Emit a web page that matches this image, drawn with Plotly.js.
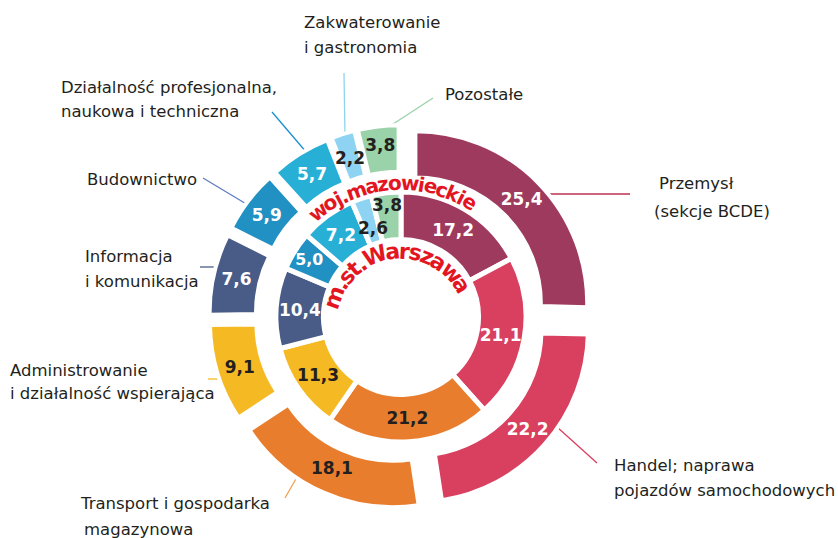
<!DOCTYPE html>
<html>
<head>
<meta charset="utf-8">
<script src="https://cdn.plot.ly/plotly-3.0.1.min.js"></script>
<style>html,body{margin:0;padding:0;background:#fff;}#chart{width:838px;height:538px;}</style>
</head>
<body>
<div id="chart"></div>
<script>
// ---------- DATA ----------
const categories = [
  'Przemysł (sekcje BCDE)',
  'Handel; naprawa pojazdów samochodowych',
  'Transport i gospodarka magazynowa',
  'Administrowanie i działalność wspierająca',
  'Informacja i komunikacja',
  'Budownictwo',
  'Działalność profesjonalna, naukowa i techniczna',
  'Zakwaterowanie i gastronomia',
  'Pozostałe'
];
const mazowieckie = [25.4, 22.2, 18.1, 9.1, 7.6, 5.9, 5.7, 2.2, 3.8];
const warszawa    = [17.2, 21.1, 21.2, 11.3, 10.4, 5.0, 7.2, 2.6, 3.8];
const outerName = 'woj.mazowieckie';
const innerName = 'm.st.Warszawa';
const labelLines = [
  ['Przemysł', '(sekcje BCDE)'],
  ['Handel; naprawa', 'pojazdów samochodowych'],
  ['Transport i gospodarka', 'magazynowa'],
  ['Administrowanie', 'i działalność wspierająca'],
  ['Informacja', 'i komunikacja'],
  ['Budownictwo'],
  ['Działalność profesjonalna,', 'naukowa i techniczna'],
  ['Zakwaterowanie', 'i gastronomia'],
  ['Pozostałe']
];

// ---------- STYLE ----------
const W = 838, H = 538;
const colors = ['#9E3A5E', '#D9405F', '#E87E2D', '#F5B923', '#495B87', '#2190C2', '#28AFD6', '#8ED3F2', '#9AD2A9'];
const lineColors = ['#BE3050', '#D9405F', '#F2A050', '#F5B923', '#495B87', '#5F7CC0', '#1A90D0', '#8ED3F2', '#9AD2A9'];
const darkText = [false, false, true, true, false, false, false, true, true];
const red = '#E3161F';
const FONT = 'DejaVu Sans';
const VAL_SIZE = 17;
const cx = 401, cy = 317;          // pie centre (px)
const outerPull = 0.117;
const outerR = 171.8, outerHole = 0.73;
const innerR = 125, innerHole = 0.62;

const px = x => x / W;
const py = y => 1 - y / H;
const fmt = v => v.toFixed(1).replace('.', ',');

// which slices get their value as a free annotation (placed at the slice bisector)
const outerAnno = [2, 7];
const innerAnno = [7, 8];

function dom(r, pull) {
  const half = r * (1 + pull);
  return { x: [px(cx - half), px(cx + half)], y: [py(cy + half), py(cy - half)] };
}

const outerTrace = {
  type: 'pie', values: mazowieckie, labels: categories, sort: false,
  direction: 'clockwise', rotation: 0, hole: outerHole,
  pull: mazowieckie.map(() => outerPull),
  domain: dom(outerR, outerPull),
  marker: { colors: colors, line: { color: '#ffffff', width: 4 } },
  text: mazowieckie.map((v, i) => outerAnno.includes(i) ? '' : fmt(v)),
  textinfo: 'text', textposition: 'inside', insidetextorientation: 'horizontal',
  insidetextfont: { family: FONT, size: VAL_SIZE, weight: 700, color: darkText.map(d => d ? '#231F20' : '#ffffff') },
  hoverinfo: 'label+value', showlegend: false
};
const innerTrace = {
  type: 'pie', values: warszawa, labels: categories, sort: false,
  direction: 'clockwise', rotation: 0, hole: innerHole,
  domain: dom(innerR, 0),
  marker: { colors: colors, line: { color: '#ffffff', width: 5 } },
  text: warszawa.map((v, i) => innerAnno.includes(i) ? '' : fmt(v)),
  textinfo: 'text', textposition: 'inside', insidetextorientation: 'horizontal',
  insidetextfont: { family: FONT, size: VAL_SIZE, weight: 700, color: darkText.map(d => d ? '#231F20' : '#ffffff') },
  hoverinfo: 'label+value', showlegend: false
};

const annotations = [];
const shapes = [];

// value labels placed at slice bisector computed from the data
function sliceAnno(values, idx, rMid, pullPx, dx, dy) {
  const tot = values.reduce((a, b) => a + b, 0);
  const cum = values.slice(0, idx).reduce((a, b) => a + b, 0);
  const mid = (cum + values[idx] / 2) / tot * 2 * Math.PI;
  const x = cx + (pullPx + rMid) * Math.sin(mid) + dx;
  const y = cy - (pullPx + rMid) * Math.cos(mid) + dy;
  annotations.push({
    xref: 'paper', yref: 'paper', x: px(x), y: py(y), text: fmt(values[idx]),
    showarrow: false, xanchor: 'center', yanchor: 'middle',
    font: { family: FONT, size: VAL_SIZE, weight: 700, color: darkText[idx] ? '#231F20' : '#fff' }
  });
}
sliceAnno(mazowieckie, 2, 149, outerPull * outerR, 0, -4);
sliceAnno(mazowieckie, 7, 149, outerPull * outerR, 0, 2);
sliceAnno(warszawa, 7, 100, 0, 4, 6);
sliceAnno(warszawa, 8, 112, 0, -1, -1);

// category labels (left edge x, centre y in px) and leader lines
const labelPos = [
  [[657, 183], [652, 211]],
  [[612, 465], [612, 490]],
  [[78, 503], [82, 529]],
  [[8, 370], [8, 393]],
  [[83, 256], [83, 281]],
  [[85, 179]],
  [[59, 87], [59, 111]],
  [[302, 23], [302, 47]],
  [[443, 95]]
];
const leaders = [
  [547, 194, 630, 194],
  [557, 427, 597, 463],
  [297, 477, 285, 498],
  [208, 379, 227, 379],
  [200, 267, 218, 267],
  [203, 178, 248, 205],
  [272, 112, 307, 153],
  [344, 73, 345, 137],
  [433, 98, 387, 128]
];
labelLines.forEach((lines, i) => {
  lines.forEach((t, j) => {
    annotations.push({
      xref: 'paper', yref: 'paper', x: px(labelPos[i][j][0]), y: py(labelPos[i][j][1]),
      text: t, showarrow: false, xanchor: 'left', yanchor: 'middle',
      font: { family: FONT, size: 16.5, color: '#231F20' }
    });
  });
  const L = leaders[i];
  shapes.push({
    type: 'line', xref: 'paper', yref: 'paper', layer: 'below',
    x0: px(L[0]), y0: py(L[1]), x1: px(L[2]), y1: py(L[3]),
    line: { color: lineColors[i], width: 1.3 }
  });
});

// curved ring names (one annotation per character)
const cw = { 'w': .924, 'o': .687, 'j': .343, '.': .38, 'm': 1.042, 'a': .675, 'z': .582, 'i': .343,
  'e': .678, 'c': .593, 'k': .665, 's': .595, 't': .478, 'W': 1.103, 'r': .493 };
function arcText(str, ccx, ccy, r, th0, th1, size) {
  const ws = str.split('').map(c => cw[c] || .65);
  const centers = [];
  let acc = 0;
  ws.forEach(w => { centers.push(acc + w / 2); acc += w; });
  const a = centers[0], b = centers[centers.length - 1];
  str.split('').forEach((c, k) => {
    const th = th0 + (centers[k] - a) / (b - a) * (th1 - th0);
    const t = th * Math.PI / 180;
    annotations.push({
      xref: 'paper', yref: 'paper', x: px(ccx + r * Math.sin(t)), y: py(ccy - r * Math.cos(t)),
      text: c, showarrow: false, xanchor: 'center', yanchor: 'middle', textangle: th,
      font: { family: FONT, size: size, weight: 700, color: red }
    });
  });
}
arcText(outerName, 401, 317, 134, -38.5, 31, 20);
arcText(innerName, 401, 322, 71, -70, 59, 22);

Plotly.newPlot('chart', [outerTrace, innerTrace], {
  width: W, height: H, margin: { l: 0, r: 0, t: 0, b: 0 },
  paper_bgcolor: '#ffffff', plot_bgcolor: '#ffffff',
  font: { family: FONT },
  showlegend: false, annotations: annotations, shapes: shapes
}, { displayModeBar: false, staticPlot: true });
</script>
</body>
</html>
